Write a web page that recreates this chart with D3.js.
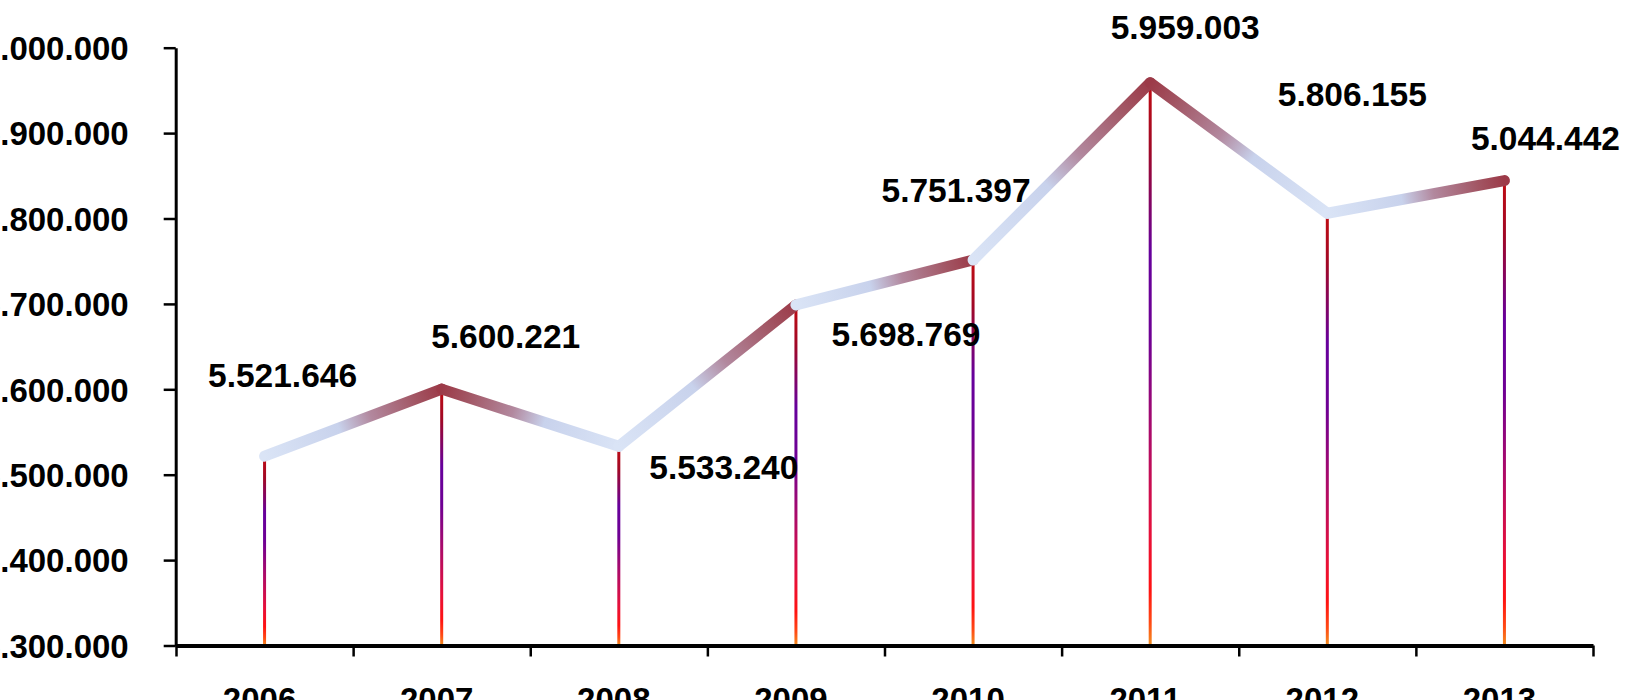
<!DOCTYPE html>
<html>
<head>
<meta charset="utf-8">
<script src="https://cdn.jsdelivr.net/npm/d3@7"></script>
<style>
  body { margin: 0; background: #fff; overflow: hidden; }
  svg text { font-family: "Liberation Sans", Arial, sans-serif; font-weight: bold; fill: #000; }
</style>
</head>
<body>
<div id="chart"></div>
<script>
// --- data ---
const years = ["2006", "2007", "2008", "2009", "2010", "2011", "2012", "2013"];
const values = [5521646, 5600221, 5533240, 5698769, 5751397, 5959003, 5806155, 5844442];
// labels as printed on the original (last one has the typo)
const valueLabels = ["5.521.646", "5.600.221", "5.533.240", "5.698.769", "5.751.397", "5.959.003", "5.806.155", "5.044.442"];
const yTicks = [5300000, 5400000, 5500000, 5600000, 5700000, 5800000, 5900000, 6000000];

// hand placed label nudges (dx, dy from the point), like the original
const labelNudge = [[18, -69], [64, -41], [105, 33], [110, 41], [-17, -58], [35, -44], [25, -107], [41, -31]];

const width = 1629, height = 700;

const svg = d3.select("#chart").append("svg")
    .attr("width", width)
    .attr("height", height);

const locale = d3.formatLocale({ decimal: ",", thousands: ".", grouping: [3], currency: ["", ""] });
const fmt = locale.format(",d");

const x = d3.scaleBand().domain(years).range([176, 1593]).paddingInner(0).paddingOuter(0);
const xEdge = d3.scaleLinear().domain([0, years.length]).range([176, 1593]);
const y = d3.scaleLinear().domain([5300000, 6000000]).range([645.5, 47.7]);

// gradients
const defs = svg.append("defs");
const stem = defs.append("linearGradient")
    .attr("id", "stemGrad")
    .attr("x1", 0).attr("y1", 0).attr("x2", 0).attr("y2", 1);
[[0, "#c00c12"], [0.12, "#a00826"], [0.3, "#66009c"], [0.45, "#6e0094"], [0.62, "#aa0a6a"],
 [0.8, "#e6103a"], [0.9, "#ff1212"], [0.96, "#ff4a14"], [1, "#f29020"]]
    .forEach(s => stem.append("stop").attr("offset", s[0]).attr("stop-color", s[1]));

// y axis
const yAxis = svg.append("g")
    .attr("transform", "translate(175.7,0)")
    .call(d3.axisLeft(y).tickValues(yTicks).tickFormat(fmt).tickSize(12).tickSizeOuter(0).tickPadding(35));
yAxis.select(".domain").attr("stroke", "#000").attr("stroke-width", 3);
yAxis.selectAll(".tick line").attr("stroke", "#000").attr("stroke-width", 2.5);
yAxis.selectAll(".tick text")
    .style("font-size", "33px")
    .attr("dy", "0.36em");

// stems
svg.selectAll(".stem")
    .data(values)
    .enter().append("rect")
    .attr("class", "stem")
    .attr("x", (d, i) => x(years[i]) + x.bandwidth() / 2 - 1.5)
    .attr("y", d => y(d))
    .attr("width", 3)
    .attr("height", d => y(5300000) - y(d))
    .attr("fill", "url(#stemGrad)");

// ribbon line, one gradient per segment: high end brown, low end pale blue
const pts = values.map((v, i) => [x(years[i]) + x.bandwidth() / 2, y(v)]);
const segs = d3.pairs(pts);
segs.forEach((s, i) => {
    const hi = s[0][1] < s[1][1] ? s[0] : s[1];
    const lo = hi === s[0] ? s[1] : s[0];
    const g = defs.append("linearGradient")
        .attr("id", "seg" + i)
        .attr("gradientUnits", "userSpaceOnUse")
        .attr("x1", hi[0]).attr("y1", hi[1])
        .attr("x2", lo[0]).attr("y2", lo[1]);
    [[0, "#9c3a48"], [0.15, "#a25664"], [0.4, "#b2889e"], [0.58, "#c8d2ec"], [1, "#dae4f6"]]
        .forEach(st => g.append("stop").attr("offset", st[0]).attr("stop-color", st[1]));
});
svg.selectAll(".seg")
    .data(segs)
    .enter().append("path")
    .attr("class", "seg")
    .attr("d", d => d3.line()(d))
    .attr("fill", "none")
    .attr("stroke", (d, i) => `url(#seg${i})`)
    .attr("stroke-width", 11)
    .attr("stroke-linecap", "round");

// x axis
const xAxis = svg.append("g")
    .attr("transform", "translate(0,645.5)")
    .call(d3.axisBottom(xEdge).ticks(years.length).tickFormat("").tickSize(11).tickSizeOuter(0));
xAxis.select(".domain").attr("stroke", "#000").attr("stroke-width", 4);
xAxis.selectAll(".tick line").attr("stroke", "#000").attr("stroke-width", 2.5);

svg.selectAll(".xlab")
    .data(years)
    .enter().append("text")
    .attr("class", "xlab")
    .attr("x", d => x(d) + x.bandwidth() / 2 - 5)
    .attr("y", 711)
    .attr("text-anchor", "middle")
    .style("font-size", "33px")
    .text(d => d);

// value labels
svg.selectAll(".vlab")
    .data(values)
    .enter().append("text")
    .attr("class", "vlab")
    .attr("x", (d, i) => pts[i][0] + labelNudge[i][0])
    .attr("y", (d, i) => pts[i][1] + labelNudge[i][1])
    .attr("text-anchor", "middle")
    .style("font-size", "33.5px")
    .text((d, i) => valueLabels[i]);
</script>
</body>
</html>
